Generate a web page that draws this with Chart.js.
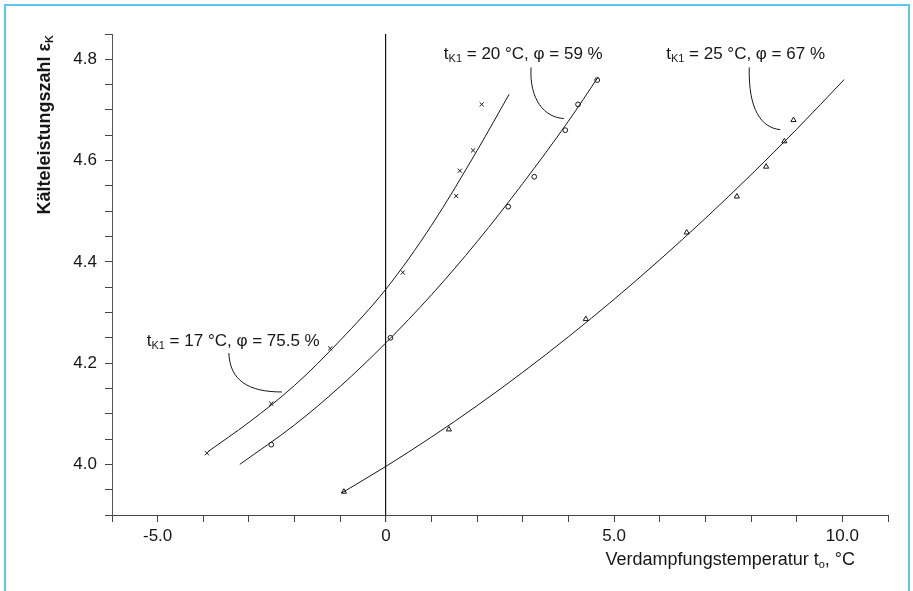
<!DOCTYPE html>
<html>
<head>
<meta charset="utf-8">
<script src="https://cdn.jsdelivr.net/npm/chart.js@4.4.1/dist/chart.umd.min.js"></script>
<style>
  body{ margin:0; background:#ffffff; }
  #frame{ position:absolute; left:4px; top:4px; width:902px; height:600px; border:2px solid #5ec4f2; }
  #chart{ position:absolute; left:0; top:0; }
</style>
</head>
<body>
<div id="frame"></div>
<canvas id="chart" width="913" height="591"></canvas>
<script>

//======================================================
// DATA
//======================================================

// tK1 = 17 °C, φ = 75.5 %  (x markers)
const meas17X = [-3.92, -2.51, -1.22, 0.37, 1.54, 1.62, 1.91, 2.10];
const meas17Y = [4.022, 4.120, 4.229, 4.379, 4.530, 4.580, 4.620, 4.711];
const curve17X = [-3.9, -3, -2, -1, 0, 1, 2, 2.7];
const curve17Y = [4.025, 4.083, 4.156, 4.245, 4.346, 4.472, 4.620, 4.731];

// tK1 = 20 °C, φ = 59 %  (circle markers)
const meas20X = [-2.51, 0.10, 2.68, 3.25, 3.93, 4.21, 4.63];
const meas20Y = [4.039, 4.250, 4.509, 4.568, 4.660, 4.711, 4.759];
const curve20X = [-3.2, -2, -1, 0, 1, 2, 3, 4, 4.65];
const curve20Y = [4.000, 4.078, 4.154, 4.240, 4.335, 4.440, 4.555, 4.678, 4.765];

// tK1 = 25 °C, φ = 67 %  (triangle markers)
const meas25X = [-0.92, 1.38, 4.38, 6.59, 7.69, 8.33, 8.73, 8.93];
const meas25Y = [3.946, 4.069, 4.287, 4.458, 4.529, 4.588, 4.638, 4.680];
const curve25X = [-0.96, 0, 1, 2, 3, 4, 5, 6, 7, 8, 9, 10.04];
const curve25Y = [3.944, 3.996, 4.054, 4.116, 4.182, 4.252, 4.326, 4.404, 4.486, 4.572, 4.662, 4.760];

// axis ticks
const xLabelTicks = [-5, 0, 5, 10];
const yLabelTicks = [4.0, 4.2, 4.4, 4.6, 4.8];

//======================================================
// HELPERS
//======================================================

const FONT = "'Liberation Sans', Arial, sans-serif";
const INK = "#161616";

function pts(xs, ys){
    return xs.map(function(x, i){ return {x:x, y:ys[i]}; });
}

// text with subscripts: parts = [[text, isSub], ...]
function richWidth(ctx, parts, size, weight){
    let w = 0;
    parts.forEach(function(p){
        ctx.font = weight + " " + (p[1] ? Math.round(size*0.62) : size) + "px " + FONT;
        w += ctx.measureText(p[0]).width;
    });
    return w;
}

function drawRich(ctx, parts, x, y, size, weight, align){
    let cx = x;
    if(align === "right") cx = x - richWidth(ctx, parts, size, weight);
    ctx.textBaseline = "middle";
    ctx.textAlign = "left";
    parts.forEach(function(p){
        const s = p[1] ? Math.round(size*0.62) : size;
        ctx.font = weight + " " + s + "px " + FONT;
        ctx.fillText(p[0], cx, p[1] ? y + size*0.3 : y);
        cx += ctx.measureText(p[0]).width;
    });
}

//======================================================
// ANNOTATIONS (positions in data units)
//======================================================

const notes = [
    { parts:[["t",0],["K1",1],[" = 17 °C, φ = 75.5 %",0]], at:[-5.24, 4.244],
      leader:[[-3.44,4.220],[-3.42,4.165],[-3.00,4.143],[-2.28,4.143]] },
    { parts:[["t",0],["K1",1],[" = 20 °C, φ = 59 %",0]], at:[1.27, 4.810],
      leader:[[3.18,4.784],[3.14,4.721],[3.47,4.685],[3.90,4.683]] },
    { parts:[["t",0],["K1",1],[" = 25 °C, φ = 67 %",0]], at:[6.14, 4.810],
      leader:[[7.96,4.784],[7.94,4.701],[8.22,4.665],[8.64,4.661]] }
];

const decorPlugin = {
    id:"decor",
    afterDraw(chart){
        const ctx = chart.ctx;
        const xs = chart.scales.x;
        const ys = chart.scales.y;
        const area = chart.chartArea;

        ctx.save();
        ctx.fillStyle = INK;
        ctx.strokeStyle = INK;
        ctx.lineWidth = 1;

        notes.forEach(function(n){
            drawRich(ctx, n.parts, xs.getPixelForValue(n.at[0]), ys.getPixelForValue(n.at[1]), 17, "normal", "left");
            const p = n.leader.map(function(q){ return [xs.getPixelForValue(q[0]), ys.getPixelForValue(q[1])]; });
            ctx.beginPath();
            ctx.moveTo(p[0][0], p[0][1]);
            ctx.bezierCurveTo(p[1][0], p[1][1], p[2][0], p[2][1], p[3][0], p[3][1]);
            ctx.stroke();
        });

        // axis titles
        drawRich(ctx, [["Verdampfungstemperatur t",0],["o",1],[", °C",0]], area.right - 33, 560, 18, "normal", "right");

        ctx.translate(45, area.top + 1);
        ctx.rotate(-Math.PI/2);
        drawRich(ctx, [["Kälteleistungszahl ε",0],["K",1]], 0, 0, 18, "bold", "right");

        ctx.restore();
    }
};

//======================================================
// CHART
//======================================================

function markerSet(xs, ys, style, radius){
    return {
        type:"scatter",
        data:pts(xs, ys),
        showLine:false,
        pointStyle:style,
        pointRadius:radius,
        pointBorderWidth:1,
        pointBorderColor:INK,
        pointBackgroundColor:"rgba(0,0,0,0)"
    };
}

function curveSet(xs, ys){
    return {
        type:"line",
        data:pts(xs, ys),
        borderColor:INK,
        borderWidth:1,
        pointRadius:0,
        cubicInterpolationMode:"monotone",
        fill:false
    };
}

new Chart(document.getElementById("chart").getContext("2d"), {

    type:"scatter",

    data:{
        datasets:[
            curveSet(curve17X, curve17Y),
            curveSet(curve20X, curve20Y),
            curveSet(curve25X, curve25Y),
            markerSet(meas17X, meas17Y, "crossRot", 3),
            markerSet(meas20X, meas20Y, "circle", 2.4),
            markerSet(meas25X, meas25Y, "triangle", 3)
        ]
    },

    options:{
        responsive:false,
        animation:false,
        layout:{ padding:{ top:34, right:25, left:0, bottom:0 } },
        plugins:{
            legend:{ display:false },
            tooltip:{ enabled:false }
        },
        scales:{
            x:{
                type:"linear",
                min:-6,
                max:11,
                afterFit(s){ s.height = 76; },
                border:{ display:true, color:"#444", width:1 },
                grid:{
                    color(c){ return c.tick && c.tick.value === 0 ? "#111" : "rgba(0,0,0,0)"; },
                    lineWidth(c){ return c.tick && c.tick.value === 0 ? 1.2 : 1; },
                    tickColor:"#444",
                    tickLength:7
                },
                ticks:{
                    stepSize:1,
                    autoSkip:false,
                    maxRotation:0,
                    padding:4,
                    color:INK,
                    font:{ family:FONT, size:17 },
                    callback(v){
                        if(xLabelTicks.indexOf(v) < 0) return "";
                        return v === 0 ? "0" : v.toFixed(1);
                    }
                }
            },
            y:{
                type:"linear",
                min:3.9,
                max:4.85,
                afterFit(s){ s.width = 112; },
                border:{ display:true, color:"#555", width:1 },
                grid:{
                    color:"rgba(0,0,0,0)",
                    tickColor:"#444",
                    tickLength:7
                },
                ticks:{
                    stepSize:0.05,
                    autoSkip:false,
                    padding:8,
                    color:INK,
                    font:{ family:FONT, size:17 },
                    callback(v){
                        const r = Math.round(v*100)/100;
                        return yLabelTicks.some(function(t){ return Math.abs(t - r) < 1e-6; }) ? r.toFixed(1) : "";
                    }
                }
            }
        }
    },

    plugins:[decorPlugin]

});

</script>
</body>
</html>
